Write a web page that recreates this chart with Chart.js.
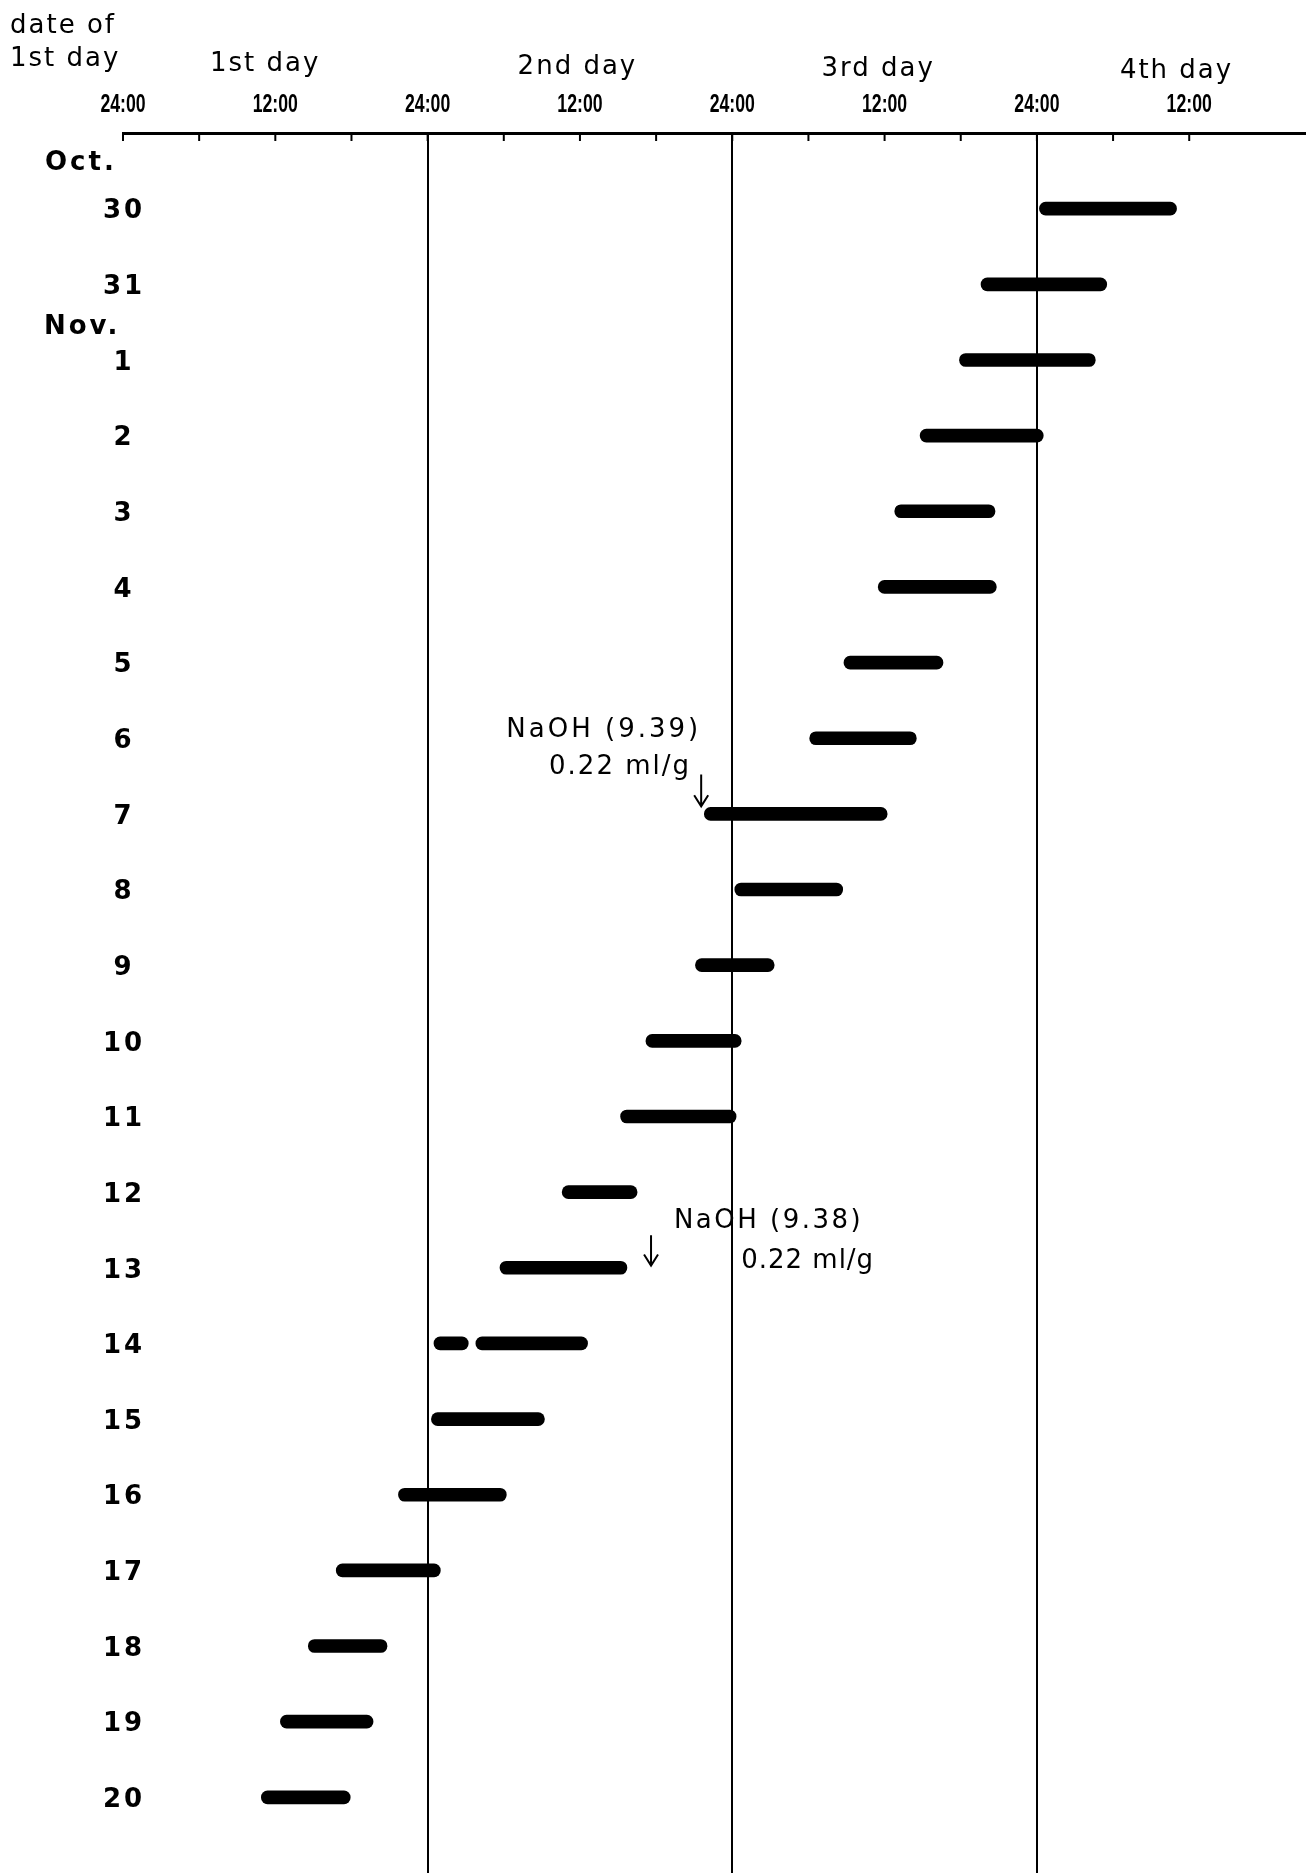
<!DOCTYPE html>
<html>
<head>
<meta charset="utf-8">
<script src="https://cdn.jsdelivr.net/npm/chart.js@4.4.1/dist/chart.umd.min.js"></script>
<style>
html,body{margin:0;padding:0;background:#fff;overflow:hidden;}
#wrap{width:1306px;height:1873px;position:relative;}
</style>
</head>
<body>
<div id="wrap"><canvas id="mainChart"></canvas></div>
<script>

/* DATA */

const dates = ["30","31","1","2","3","4","5","6","7","8","9","10","11","12","13","14","15","16","17","18","19","20"];

const startHours = [72.2,67.6,65.9,62.8,60.8,59.5,56.8,54.1,45.8,48.2,45.1,41.2,39.2,34.6,29.7,24.5,24.3,21.7,16.8,14.6,12.4,10.9];
const endHours   = [83.0,77.5,76.6,72.5,68.7,68.8,64.6,62.5,60.2,56.7,51.3,48.7,48.3,40.5,39.7,27.2,33.2,30.2,25.0,20.8,19.7,17.9];

/* second piece of the broken bar on Nov. 14 */
const splitDates = ["14"];
const splitStarts = [27.8];
const splitEnds = [36.6];

const hourTicks = [0,12,24,36,48,60,72,84];
const hourTickLabels = ["24:00","12:00","24:00","12:00","24:00","12:00","24:00","12:00"];

const dayLabels = ["1st day","2nd day","3rd day","4th day"];
const dayLines = [24,48,72];

/* LABELS WITH EMPTY SLOTS AT TOP AND BOTTOM */

const rowLabels = ["", ...dates, ""];

const mainData = rowLabels.map((d,i)=> i===0 || i===rowLabels.length-1 ? null : [startHours[i-1], endHours[i-1]]);

const splitData = rowLabels.map((d,i)=>{
  const k = splitDates.indexOf(d);
  return (k>=0 && i>0) ? [splitStarts[k], splitEnds[k]] : null;
});

/* TEXT + INNER TICKS */

const FONT = '"DejaVu Sans", sans-serif';

function arrow(ctx, px, top, bottom){
  ctx.beginPath();
  ctx.moveTo(px, top);
  ctx.lineTo(px, bottom);
  ctx.moveTo(px - 7, bottom - 11);
  ctx.lineTo(px, bottom);
  ctx.lineTo(px + 7, bottom - 11);
  ctx.stroke();
}

const textPlugin = {
  id:"textPlugin",
  afterDraw(chart){
    const {ctx, chartArea} = chart;
    const x = chart.scales.x;
    const y = chart.scales.y;
    ctx.save();
    ctx.fillStyle = "#000";
    ctx.strokeStyle = "#000";

    /* ticks hanging below the axis line */
    ctx.lineWidth = 2;
    x.ticks.forEach(t=>{
      if(t.value % 6 !== 0) return;
      const px = x.getPixelForValue(t.value);
      ctx.beginPath();
      ctx.moveTo(px, chartArea.top);
      ctx.lineTo(px, chartArea.top + 8);
      ctx.stroke();
    });

    /* narrow hour labels */
    ctx.textBaseline = "middle";
    ctx.textAlign = "center";
    ctx.font = 'bold 26px "Liberation Sans", sans-serif';
    hourTicks.forEach((h,i)=>{
      const px = x.getPixelForValue(h);
      ctx.save();
      ctx.translate(px, 105);
      ctx.scale(0.68, 1);
      ctx.fillText(hourTickLabels[i], 0, 0);
      ctx.restore();
    });

    /* headers */
    ctx.font = "26px " + FONT;
    ctx.letterSpacing = "2px";
    ctx.textAlign = "left";
    ctx.fillText("date of", 10, 26);
    ctx.fillText("1st day", 10, 59);

    const dayX = [11.2,35.8,59.5,83.0];
    const dayY = [64,67,69,71];
    ctx.textAlign = "center";
    dayLabels.forEach((lab,i)=>{
      ctx.fillText(lab, x.getPixelForValue(dayX[i]), dayY[i]);
    });

    /* row labels */
    ctx.font = "bold 26px " + FONT;
    ctx.letterSpacing = "3px";
    ctx.textAlign = "center";
    dates.forEach((d,i)=>{
      ctx.fillText(d, chartArea.left + 1, y.getPixelForValue(i+1) + 3);
    });
    ctx.textAlign = "left";
    ctx.fillText("Oct.", 45, y.getPixelForValue(0.38) + 2);
    ctx.fillText("Nov.", 44, y.getPixelForValue(2.54) + 2);

    /* NaOH notes */
    ctx.font = "26px " + FONT;
    ctx.letterSpacing = "3px";
    ctx.textAlign = "right";
    ctx.fillText("NaOH (9.39)", x.getPixelForValue(45.55), y.getPixelForValue(7.89));
    ctx.letterSpacing = "2px";
    ctx.fillText("0.22 ml/g", x.getPixelForValue(44.75), y.getPixelForValue(8.39));
    ctx.textAlign = "left";
    ctx.letterSpacing = "2.5px";
    ctx.fillText("NaOH (9.38)", x.getPixelForValue(43.4), y.getPixelForValue(14.39));
    ctx.letterSpacing = "1px";
    ctx.fillText("0.22 ml/g", x.getPixelForValue(48.7), y.getPixelForValue(14.91));

    ctx.lineWidth = 2;
    arrow(ctx, x.getPixelForValue(45.55), y.getPixelForValue(8.48), y.getPixelForValue(8.90));
    arrow(ctx, x.getPixelForValue(41.6), y.getPixelForValue(14.57), y.getPixelForValue(14.97));

    ctx.restore();
  }
};

/* CHART SETUP */

const ctx = document.getElementById("mainChart");

const chart = new Chart(ctx, {

type:"bar",

data:{
  labels:rowLabels,
  datasets:[
    {
      data:mainData,
      backgroundColor:"#000",
      borderRadius:6.5,
      borderSkipped:false,
      barThickness:13,
      grouped:false
    },
    {
      data:splitData,
      backgroundColor:"#000",
      borderRadius:6.5,
      borderSkipped:false,
      barThickness:13,
      grouped:false
    }
  ]
},

options:{
  indexAxis:"y",
  responsive:true,
  maintainAspectRatio:false,
  animation:false,
  devicePixelRatio:1,
  layout:{padding:{left:123,right:0,top:0,bottom:0}},
  plugins:{
    legend:{display:false},
    tooltip:{enabled:false}
  },
  scales:{
    x:{
      type:"linear",
      position:"top",
      min:0,
      max:93.2,
      afterFit(scale){
        scale.height = 133;
        scale.paddingLeft = 0;
        scale.paddingRight = 0;
      },
      ticks:{
        stepSize:6,
        autoSkip:false,
        display:false
      },
      grid:{
        drawTicks:false,
        lineWidth:2,
        color(c){ return c.tick && dayLines.includes(c.tick.value) ? "#000" : "rgba(0,0,0,0)"; }
      },
      border:{display:true,color:"#000",width:3}
    },
    y:{
      type:"category",
      display:false,
      offset:false
    }
  }
},

plugins:[textPlugin]

});

</script>
</body>
</html>
